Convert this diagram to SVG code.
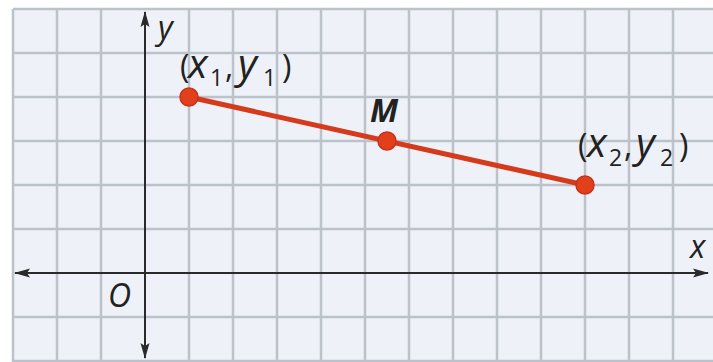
<svg xmlns="http://www.w3.org/2000/svg" width="713" height="362" viewBox="0 0 713 362">
<defs>
<style>
.grid{stroke:#bcc2c9;stroke-width:2.5}
.axis{stroke:#2a2a2a;stroke-width:2;fill:none}
.lbl{font-family:"Open Sans","Liberation Sans",sans-serif;fill:#222;font-size:32px}
.it{font-style:italic;font-size:41px}
.sub{font-size:23px}
.pt{fill:#e2401c;stroke:#c8321a;stroke-width:1.5}
</style>
<marker id="ah" viewBox="0 0 16 10" refX="15" refY="5" markerWidth="16" markerHeight="10" markerUnits="userSpaceOnUse" orient="auto-start-reverse">
<path d="M0,0.5 L16,5 L0,9.5 L3,5 Z" fill="#2a2a2a"/>
</marker>
</defs>
<rect width="713" height="362" fill="#ffffff"/>
<rect x="13" y="9" width="700" height="353" fill="#eef2f8"/>
<g id="grid" class="grid">
<line x1="13" y1="9" x2="713" y2="9"/>
<line x1="13" y1="53" x2="713" y2="53"/>
<line x1="13" y1="97" x2="713" y2="97"/>
<line x1="13" y1="141" x2="713" y2="141"/>
<line x1="13" y1="185" x2="713" y2="185"/>
<line x1="13" y1="229" x2="713" y2="229"/>
<line x1="13" y1="317" x2="713" y2="317"/>
<line x1="13" y1="361" x2="713" y2="361"/>
<line x1="13" y1="9" x2="13" y2="362"/>
<line x1="57" y1="9" x2="57" y2="362"/>
<line x1="101" y1="9" x2="101" y2="362"/>
<line x1="189" y1="9" x2="189" y2="362"/>
<line x1="233" y1="9" x2="233" y2="362"/>
<line x1="277" y1="9" x2="277" y2="362"/>
<line x1="321" y1="9" x2="321" y2="362"/>
<line x1="365" y1="9" x2="365" y2="362"/>
<line x1="409" y1="9" x2="409" y2="362"/>
<line x1="453" y1="9" x2="453" y2="362"/>
<line x1="497" y1="9" x2="497" y2="362"/>
<line x1="541" y1="9" x2="541" y2="362"/>
<line x1="585" y1="9" x2="585" y2="362"/>
<line x1="629" y1="9" x2="629" y2="362"/>
<line x1="673" y1="9" x2="673" y2="362"/>
</g>
<g id="connectors">
<line class="axis" x1="15" y1="273" x2="708" y2="273" marker-start="url(#ah)" marker-end="url(#ah)"/>
<line class="axis" x1="145" y1="12" x2="145" y2="358" marker-start="url(#ah)" marker-end="url(#ah)"/>
<line x1="189" y1="97" x2="585" y2="185" stroke="#d63a1c" stroke-width="5"/>
</g>
<g id="axis-labels">
<text class="lbl" x="158" y="39" font-size="34" font-style="italic">y</text>
<text class="lbl" x="690" y="258" font-size="30" font-style="italic">x</text>
<text class="lbl" x="108" y="307" font-size="33" font-style="italic">O</text>
</g>
<g id="p1">
<circle class="pt" cx="189" cy="97" r="9"/>
<text class="lbl" y="78"><tspan x="180">(</tspan><tspan class="it" x="188">x</tspan><tspan class="sub" x="210" dy="8">1</tspan><tspan x="225" dy="-8">,</tspan><tspan class="it" x="238">y</tspan><tspan class="sub" x="263" dy="8">1</tspan><tspan x="282" dy="-8">)</tspan></text>
</g>
<g id="M">
<circle class="pt" cx="387" cy="141" r="9"/>
<text class="lbl" x="370" y="122" font-size="37" font-weight="bold" font-style="italic">M</text>
</g>
<g id="p2">
<circle class="pt" cx="585" cy="185" r="9"/>
<text class="lbl" y="157"><tspan x="578">(</tspan><tspan class="it" x="587">x</tspan><tspan class="sub" x="609" dy="9">2</tspan><tspan x="624" dy="-9">,</tspan><tspan class="it" x="636">y</tspan><tspan class="sub" x="660" dy="9">2</tspan><tspan x="679" dy="-9">)</tspan></text>
</g>
</svg>
